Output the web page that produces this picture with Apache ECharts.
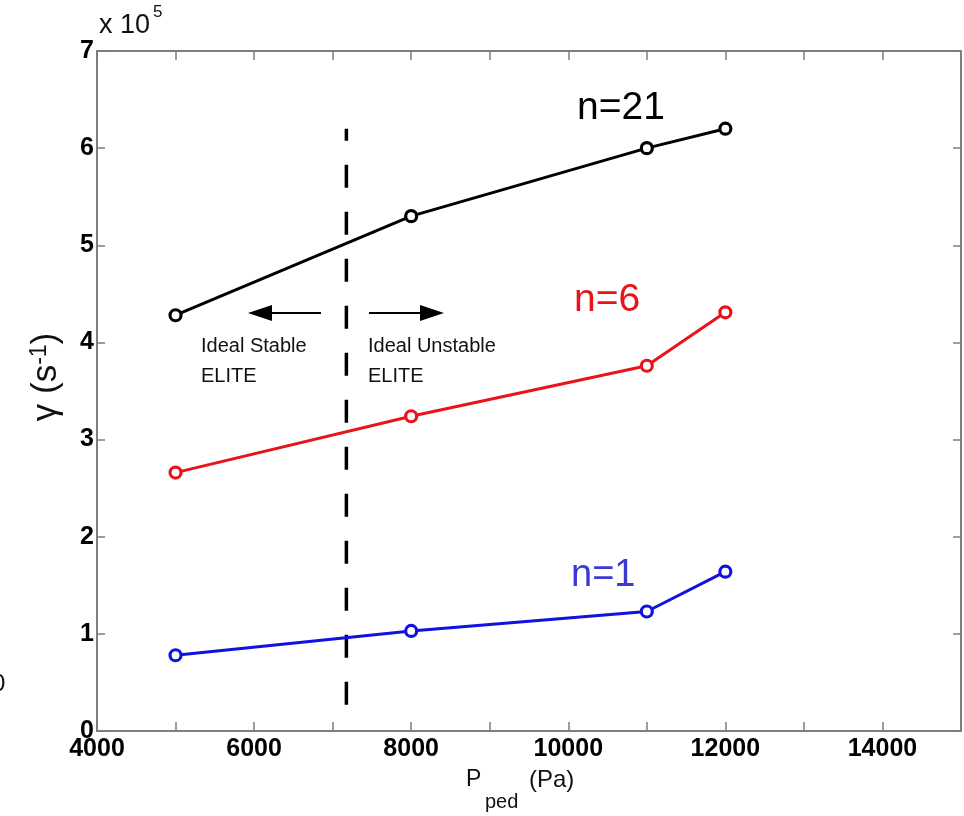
<!DOCTYPE html>
<html><head><meta charset="utf-8">
<script src="https://cdn.jsdelivr.net/npm/echarts@6/dist/echarts.min.js"></script>
<style>html,body{margin:0;padding:0;background:#fff}#c{width:964px;height:816px}</style>
</head><body><div id="c"></div>
<script>
const pressure = [5000, 8000, 11000, 12000];
const gammaN21 = [4.28, 5.30, 6.00, 6.20];
const gammaN6 = [2.66, 3.24, 3.76, 4.31];
const gammaN1 = [0.78, 1.03, 1.23, 1.64];
const boundaryX = 7175;
const boundaryY = [0.27, 6.2];
const xTickLabels = [4000, 6000, 8000, 10000, 12000, 14000];
const yTickLabels = [0, 1, 2, 3, 4, 5, 6, 7];

const tickFont = {fontFamily: 'Liberation Sans Narrow, Arial Narrow, Liberation Sans', fontWeight: 'bold', fontSize: 25, color: '#000'};
const axisGray = '#7f7f7f';
function pts(ys){ return pressure.map((x,i)=>[x, ys[i]]); }
function ser(name, ys, color){
  return {name, type:'line', data: pts(ys), symbol:'circle', symbolSize: 11,
    lineStyle:{color, width:3}, itemStyle:{color:'#fff', borderColor: color, borderWidth: 3.2}, z: 5};
}
const chart = echarts.init(document.getElementById('c'), null, {renderer:'canvas'});
chart.setOption({
  animation:false,
  backgroundColor:'#fff',
  grid:{left:97, right:2, top:51, bottom:85},
  xAxis:[{type:'value', min:4000, max:15000, interval:1000, position:'bottom',
    axisLine:{onZero:false, lineStyle:{color:axisGray, width:2}}, axisTick:{inside:true, length:9, lineStyle:{color:axisGray, width:1.5}},
    splitLine:{show:false},
    axisLabel:Object.assign({margin:6, formatter:v=> xTickLabels.includes(v)? String(v):''}, tickFont)
  },{type:'value', min:4000, max:15000, interval:1000, position:'top',
    axisLine:{onZero:false, lineStyle:{color:axisGray, width:2}}, axisTick:{inside:true, length:9, lineStyle:{color:axisGray, width:1.5}},
    axisLabel:{show:false}, splitLine:{show:false}}],
  yAxis:[{type:'value', min:0, max:7, interval:1, position:'left',
    axisLine:{show:true, onZero:false, lineStyle:{color:axisGray, width:2}}, axisTick:{show:true, inside:true, length:8, lineStyle:{color:axisGray, width:1.5}},
    splitLine:{show:false},
    axisLabel:Object.assign({margin:3, formatter:v=> yTickLabels.includes(v)? String(v):''}, tickFont)
  },{type:'value', min:0, max:7, interval:1, position:'right',
    axisLine:{show:true, onZero:false, lineStyle:{color:axisGray, width:2}}, axisTick:{show:true, inside:true, length:8, lineStyle:{color:axisGray, width:1.5}},
    axisLabel:{show:false}, splitLine:{show:false}}],
  series:[
    ser('n=21', gammaN21, '#000000'),
    ser('n=6', gammaN6, '#e8141a'),
    ser('n=1', gammaN1, '#1212e0'),
    {type:'line', data:[[boundaryX, boundaryY[0]],[boundaryX, boundaryY[1]]], symbol:'none',
      lineStyle:{color:'#000', width:3.5, type:[23,24]}, z:4}
  ],
  graphic:[
    {type:'text', left:99, top:12, style:{text:'x 10', font:'27px Liberation Sans', fill:'#111'}},
    {type:'text', left:153, top:4, style:{text:'5', font:'17px Liberation Sans', fill:'#111'}},
    {type:'text', x:46, y:377, rotation:Math.PI/2, style:{text:'{g|γ (s}{sup|-1}{g|)}', align:'center', verticalAlign:'middle',
      rich:{g:{fontFamily:'Liberation Sans', fontSize:35, fill:'#111'}, sup:{fontFamily:'Liberation Sans', fontSize:23, fill:'#111', verticalAlign:'top', padding:[0,0,13,0]}}}},
    {type:'text', left:466, top:768, style:{text:'P', font:'23px Liberation Sans', fill:'#111'}},
    {type:'text', left:485, top:792, style:{text:'ped', font:'20px Liberation Sans', fill:'#111'}},
    {type:'text', left:529, top:768, style:{text:'(Pa)', font:'24px Liberation Sans', fill:'#111'}},
    {type:'text', left:577, top:89, style:{text:'n=21', font:'39px Liberation Sans', fill:'#000'}},
    {type:'text', left:574, top:281, style:{text:'n=6', font:'39px Liberation Sans', fill:'#e8141a'}},
    {type:'text', left:571, top:557, style:{text:'n=1', font:'38px Liberation Sans', fill:'#3a3ad0'}},
    {type:'text', left:201, top:331, style:{text:'Ideal Stable\nELITE', font:'20px Liberation Sans', fill:'#111', lineHeight:30}},
    {type:'text', left:368, top:331, style:{text:'Ideal Unstable\nELITE', font:'20px Liberation Sans', fill:'#111', lineHeight:30}},
    {type:'line', shape:{x1:268, y1:313, x2:321, y2:313}, style:{stroke:'#000', lineWidth:2}},
    {type:'polygon', shape:{points:[[248,313],[272,305],[272,321]]}, style:{fill:'#000'}},
    {type:'line', shape:{x1:369, y1:313, x2:424, y2:313}, style:{stroke:'#000', lineWidth:2}},
    {type:'polygon', shape:{points:[[444,313],[420,305],[420,321]]}, style:{fill:'#000'}},
    {type:'text', left:-8, top:672, style:{text:'0', font:'24px Liberation Sans', fill:'#111'}}
  ]
});
</script></body></html>
